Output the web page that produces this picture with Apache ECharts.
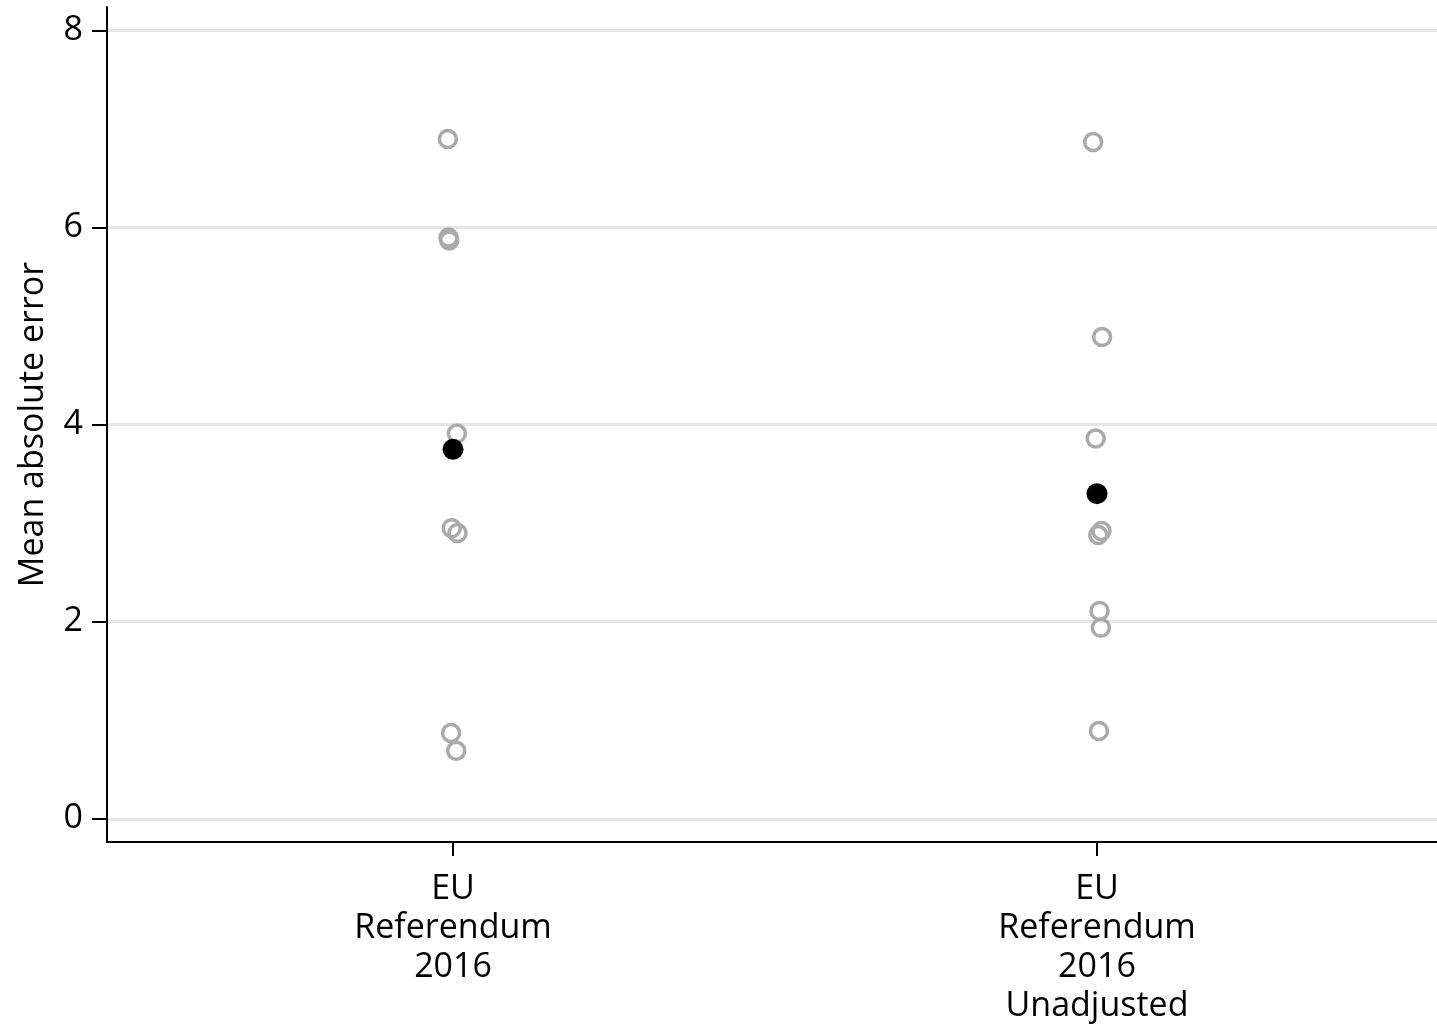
<!DOCTYPE html>
<html>
<head>
<meta charset="utf-8">
<script src="https://cdn.jsdelivr.net/npm/echarts@6/dist/echarts.min.js"></script>
<style>
  html, body { margin: 0; padding: 0; background: #fff; }
  #chart { width: 1437px; height: 1026px; }
</style>
</head>
<body>
<div id="chart"></div>
<script>
// Categories (placed at x = 1, 2 on the horizontal axis)
const categories = ['EU\nReferendum\n2016', 'EU\nReferendum\n2016\nUnadjusted'];

// Mean absolute error of individual polls, per category
const pollsAdjusted   = [6.90, 5.90, 5.87, 3.91, 2.95, 2.90, 0.87, 0.69];
const pollsUnadjusted = [6.87, 4.89, 3.86, 2.88, 2.92, 2.11, 1.94, 0.89];

// Horizontal jitter applied to each poll within its category
const jitterAdjusted   = [-0.008, -0.007, -0.006, 0.006, -0.002, 0.007, -0.003, 0.005];
const jitterUnadjusted = [-0.006, 0.008, -0.002, 0.002, 0.007, 0.004, 0.006, 0.003];

// Category means
const means = [3.75, 3.30];

const yTicks = [0, 2, 4, 6, 8];

const pollPoints = [];
pollsAdjusted.forEach((v, i) => pollPoints.push([1 + jitterAdjusted[i], v]));
pollsUnadjusted.forEach((v, i) => pollPoints.push([2 + jitterUnadjusted[i], v]));
const meanPoints = means.map((v, i) => [i + 1, v]);

const FONT = '"Open Sans", "Noto Sans", sans-serif';

const chart = echarts.init(document.getElementById('chart'));
chart.setOption({
  animation: false,
  backgroundColor: '#fff',
  grid: { left: 107, right: 0, top: 7, bottom: 180, containLabel: false },
  xAxis: {
    type: 'value',
    min: 0.4627,
    max: 2.528,
    axisLine: { show: true, onZero: false, lineStyle: { color: '#000', width: 2 } },
    axisTick: { show: true, length: 14, customValues: [1, 2], lineStyle: { color: '#000', width: 2 } },
    axisLabel: {
      customValues: [1, 2],
      formatter: v => categories[Math.round(v) - 1],
      color: '#000', fontFamily: FONT, fontSize: 34, lineHeight: 39, margin: 28
    },
    splitLine: { show: false }
  },
  yAxis: {
    type: 'value',
    min: -0.236,
    max: 8.24,
    name: 'Mean absolute error',
    nameLocation: 'middle',
    nameGap: 57,
    nameTextStyle: { color: '#000', fontFamily: FONT, fontSize: 34 },
    axisLine: { show: true, onZero: false, lineStyle: { color: '#000', width: 2 } },
    axisTick: { show: true, length: 15, customValues: yTicks, lineStyle: { color: '#000', width: 2 } },
    axisLabel: {
      customValues: yTicks,
      color: '#000', fontFamily: FONT, fontSize: 34, margin: 24
    },
    splitLine: { show: true, lineStyle: { color: '#e6e6e6', width: 3 } }
  },
  series: [
    {
      type: 'scatter',
      data: pollPoints,
      symbol: 'circle',
      symbolSize: 17,
      itemStyle: { color: 'rgba(0,0,0,0)', borderColor: '#aaaaaa', borderWidth: 3.5, opacity: 1 },
      z: 2
    },
    {
      type: 'scatter',
      data: meanPoints,
      symbol: 'circle',
      symbolSize: 21,
      itemStyle: { color: '#000', opacity: 1 },
      z: 3
    }
  ]
});
</script>
</body>
</html>
